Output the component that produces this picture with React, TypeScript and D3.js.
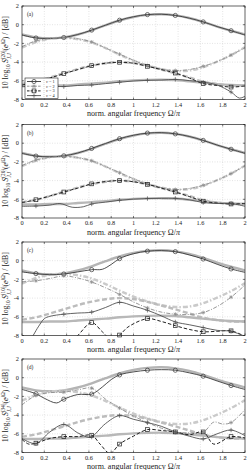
import React from "react";
import * as d3 from "d3";

type Pt = [number, number];

// frequency grid (Omega/pi) of the reference spectra
const freq = [0, 0.125, 0.25, 0.375, 0.5, 0.625, 0.75, 0.875, 1, 1.125, 1.25, 1.375, 1.5, 1.625, 1.75, 1.875, 2];
// marker positions of the estimated spectra
const markerFreq = [0.125, 0.375, 0.625, 0.875, 1.125, 1.375, 1.625, 1.875];

// true PSDs, nu = 1..4 (dB)
const trueS1 = [-1.05, -1.35, -1.45, -1.35, -1.05, -0.6, -0.05, 0.45, 0.82, 1.05, 1.12, 1.0, 0.72, 0.3, -0.2, -0.65, -1.05];
const trueS2 = [-2.45, -1.85, -1.5, -1.4, -1.55, -1.9, -2.5, -3.2, -3.85, -4.35, -4.75, -4.95, -4.9, -4.55, -3.95, -3.25, -2.4];
const trueS3 = [-6.3, -6.05, -5.65, -5.2, -4.75, -4.38, -4.12, -4.0, -4.1, -4.4, -4.8, -5.2, -5.65, -6.1, -6.35, -6.5, -6.5];
const trueS4 = [-6.55, -6.55, -6.5, -6.5, -6.4, -6.3, -6.2, -6.05, -5.95, -5.9, -5.88, -5.92, -6.05, -6.2, -6.35, -6.45, -6.5];

// estimates, panel (a)
const estA1 = [-1.1, -1.42, -1.47, -1.37, -1.05, -0.58, -0.05, 0.48, 0.85, 1.08, 1.12, 0.99, 0.7, 0.3, -0.2, -0.64, -1.1];
const estA2 = [-2.35, -1.72, -1.5, -1.38, -1.5, -1.85, -2.5, -3.15, -3.8, -4.38, -4.75, -4.9, -4.8, -4.45, -3.95, -3.25, -2.45];
const estA3 = [-6.45, -6.1, -5.7, -5.24, -4.8, -4.38, -4.12, -4.02, -4.12, -4.45, -4.8, -5.17, -5.7, -6.3, -6.5, -6.67, -6.55];
const estA4: Pt[] = [[0, -6.62], [0.125, -6.6], [0.25, -6.58], [0.375, -6.62], [0.5, -6.5], [0.625, -6.45], [0.75, -6.3], [0.875, -6.15], [1, -6.02], [1.125, -5.95], [1.25, -5.92], [1.375, -5.85], [1.5, -5.98], [1.625, -6.15], [1.75, -6.45], [1.875, -7.2], [1.95, -7.85], [2, -7.65]];

// estimates, panel (b)
const estB1 = [-1.08, -1.38, -1.45, -1.35, -1.05, -0.56, -0.03, 0.48, 0.85, 1.08, 1.13, 1.0, 0.72, 0.3, -0.2, -0.65, -1.08];
const estB2 = [-2.4, -1.8, -1.52, -1.4, -1.55, -1.88, -2.5, -3.15, -3.8, -4.35, -4.75, -4.95, -4.85, -4.5, -3.95, -3.25, -2.4];
const estB3 = [-6.35, -6.05, -5.65, -5.22, -4.8, -4.35, -4.1, -4.0, -4.12, -4.4, -4.8, -5.22, -5.7, -6.2, -6.4, -6.5, -6.45];
const estB4: Pt[] = [[0, -6.75], [0.125, -6.72], [0.25, -6.62], [0.34, -6.45], [0.45, -6.85], [0.55, -6.8], [0.625, -6.5], [0.75, -6.3], [0.875, -6.1], [1, -5.98], [1.125, -5.92], [1.25, -5.9], [1.375, -5.9], [1.5, -6.05], [1.625, -6.35], [1.75, -6.45], [1.875, -6.45], [2, -6.75]];

// estimates, panel (c)
const estC1: Pt[] = [[0, -1.2], [0.125, -1.38], [0.25, -1.5], [0.375, -1.42], [0.5, -1.2], [0.625, -0.96], [0.72, -0.92], [0.8, -0.4], [0.875, 0.22], [1, 0.75], [1.125, 1.02], [1.25, 1.08], [1.375, 0.97], [1.5, 0.62], [1.625, 0.18], [1.75, -0.38], [1.875, -0.88], [2, -1.25]];
const estC2: Pt[] = [[0, -2.25], [0.125, -2.15], [0.25, -1.9], [0.375, -1.62], [0.5, -1.85], [0.625, -2.28], [0.75, -2.9], [0.875, -3.6], [1, -4.4], [1.125, -5.05], [1.25, -5.5], [1.375, -5.72], [1.5, -5.75], [1.625, -5.55], [1.75, -4.9], [1.875, -3.9], [2, -2.6]];
const estC3: Pt[] = [[0, -10], [0.25, -9.8], [0.375, -9.4], [0.5, -8.0], [0.625, -6.62], [0.72, -7.6], [0.8, -8.4], [0.875, -7.95], [0.95, -7.1], [1.125, -6.2], [1.25, -6.5], [1.375, -6.95], [1.5, -7.35], [1.625, -7.6], [1.75, -7.55], [1.875, -7.5], [2, -8.1]];
const estC4: Pt[] = [[0, -10], [0.1, -8.0], [0.15, -7.0], [0.2, -6.2], [0.25, -5.95], [0.375, -5.72], [0.5, -5.6], [0.625, -5.5], [0.75, -5.0], [0.875, -4.45], [1, -4.85], [1.125, -5.3], [1.25, -5.9], [1.375, -6.55], [1.5, -6.85], [1.625, -7.15], [1.75, -7.45], [1.875, -7.55], [2, -8.1]];

// estimates, panel (d)
const estD1: Pt[] = [[0, -1.25], [0.125, -1.72], [0.2, -2.2], [0.31, -2.7], [0.375, -2.3], [0.5, -1.8], [0.625, -1.75], [0.72, -1.0], [0.8, -0.2], [0.875, 0.3], [1, 0.62], [1.125, 0.8], [1.25, 0.86], [1.375, 0.8], [1.5, 0.52], [1.625, 0.16], [1.75, -0.35], [1.875, -0.84], [2, -1.26]];
const estD2: Pt[] = [[0, -2.9], [0.125, -1.9], [0.25, -1.6], [0.375, -1.55], [0.5, -1.3], [0.625, -1.12], [0.75, -2.3], [0.875, -3.25], [1, -4.1], [1.125, -4.8], [1.25, -5.4], [1.375, -5.85], [1.5, -5.9], [1.625, -5.85], [1.72, -4.75], [1.8, -4.95], [1.875, -4.8], [2, -3.4]];
const estD3: Pt[] = [[0, -6.6], [0.06, -7.1], [0.125, -7.0], [0.25, -6.5], [0.375, -6.3], [0.5, -6.3], [0.625, -6.15], [0.7, -7.1], [0.79, -8.1], [0.875, -7.1], [1, -6.25], [1.125, -5.55], [1.25, -5.65], [1.375, -5.8], [1.5, -6.1], [1.625, -5.8], [1.72, -7.1], [1.875, -6.3], [2, -6.45]];
const estD4: Pt[] = [[0, -6.5], [0.125, -7.05], [0.25, -5.8], [0.375, -5.0], [0.5, -5.9], [0.6, -6.4], [0.625, -6.35], [0.75, -4.9], [0.875, -4.05], [1, -4.45], [1.125, -4.8], [1.25, -5.2], [1.375, -5.8], [1.5, -6.25], [1.625, -6.55], [1.75, -6.0], [1.875, -5.6], [2, -6.2]];

const xTicks = [0, 0.2, 0.4, 0.6, 0.8, 1, 1.2, 1.4, 1.6, 1.8, 2];
const xTickLabels = ["0", "0.2", "0.4", "0.6", "0.8", "1", "1.2", "1.4", "1.6", "1.8", "2"];
const yTicks = [2, 0, -2, -4, -6, -8];
const yTickLabels = ["2", "0", "-2", "-4", "-6", "-8"];
const legendLabels = ["1", "2", "3", "4"];

const onGrid = (v: number[]): Pt[] => freq.map((f, i) => [f, v[i]] as Pt);
const trueCurves = [trueS1, trueS2, trueS3, trueS4].map(onGrid);

type Marker = "circle" | "star" | "square" | "plus";
const styles: { dash?: string; refDash?: string; marker: Marker; est: string; ref: string; w: number }[] = [
  { marker: "circle", est: "#3a3a3a", ref: "#b4b4b4", w: 0.9 },
  { dash: "4,1.5,1,1.5", refDash: "5,2,1.5,2", marker: "star", est: "#8c8c8c", ref: "#cacaca", w: 0.9 },
  { dash: "3.5,2", refDash: "5,2.5", marker: "square", est: "#202020", ref: "#bcbcbc", w: 1.0 },
  { marker: "plus", est: "#505050", ref: "#b8b8b8", w: 0.9 },
];

const panels = [
  { tag: "(a)", order: "20", est: [onGrid(estA1), onGrid(estA2), onGrid(estA3), estA4], legend: true },
  { tag: "(b)", order: "20", est: [onGrid(estB1), onGrid(estB2), onGrid(estB3), estB4], legend: false },
  { tag: "(c)", order: "10", est: [estC1, estC2, estC3, estC4], legend: false },
  { tag: "(d)", order: "34", est: [estD1, estD2, estD3, estD4], legend: false },
];

const W = 250;
const H = 470;
const left = 22;
const right = 245;
const panelTop = [6, 124.5, 242, 359];
const panelH = 93.5;
const font = "'Liberation Serif', 'DejaVu Serif', serif";

function MarkerShape({ kind, cx, cy, color }: { kind: Marker; cx: number; cy: number; color: string }) {
  const s = 1.9;
  if (kind === "circle") return <circle cx={cx} cy={cy} r={2.1} fill="none" stroke={color} strokeWidth={0.7} />;
  if (kind === "square")
    return <rect x={cx - s} y={cy - s} width={2 * s} height={2 * s} fill="none" stroke={color} strokeWidth={0.7} />;
  if (kind === "plus")
    return <path d={`M${cx - 2.2},${cy}H${cx + 2.2}M${cx},${cy - 2.2}V${cy + 2.2}`} stroke={color} strokeWidth={0.7} />;
  const d = 1.4;
  return (
    <path
      d={`M${cx - 2},${cy}H${cx + 2}M${cx},${cy - 2}V${cy + 2}M${cx - d},${cy - d}L${cx + d},${cy + d}M${cx - d},${cy + d}L${cx + d},${cy - d}`}
      stroke={color}
      strokeWidth={0.7}
    />
  );
}

function Panel({ idx }: { idx: number }) {
  const p = panels[idx];
  const top = panelTop[idx];
  const bottom = top + panelH;
  const x = d3.scaleLinear().domain([0, 2]).range([left, right]);
  const y = d3.scaleLinear().domain([-8, 2]).range([bottom, top]);
  const line = d3
    .line<Pt>()
    .x((d) => x(d[0]))
    .y((d) => y(d[1]))
    .curve(d3.curveCatmullRom.alpha(0.5));
  const clipId = `clip-${idx}`;
  const cy = top + panelH / 2;

  return (
    <g>
      <clipPath id={clipId}>
        <rect x={left} y={top} width={right - left} height={panelH} />
      </clipPath>
      <rect x={left} y={top} width={right - left} height={panelH} fill="#fff" />
      {/* dotted grid */}
      {xTicks.slice(1, -1).map((t) => (
        <line key={`gx${t}`} x1={x(t)} x2={x(t)} y1={top} y2={bottom} stroke="#c8c8c8" strokeWidth={0.5} strokeDasharray="1,1.5" />
      ))}
      {yTicks.slice(1, -1).map((t) => (
        <line key={`gy${t}`} x1={left} x2={right} y1={y(t)} y2={y(t)} stroke="#c8c8c8" strokeWidth={0.5} strokeDasharray="1,1.5" />
      ))}
      <g clipPath={`url(#${clipId})`}>
        {trueCurves.map((c, i) => (
          <path key={`t${i}`} d={line(c) ?? ""} fill="none" stroke={styles[i].ref} strokeWidth={2.4} strokeDasharray={styles[i].refDash} />
        ))}
        {p.est.map((c, i) => (
          <path key={`e${i}`} d={line(c) ?? ""} fill="none" stroke={styles[i].est} strokeWidth={styles[i].w} strokeDasharray={styles[i].dash} />
        ))}
      </g>
      {p.est.map((c, i) =>
        c
          .filter((d) => markerFreq.includes(d[0]) && d[1] >= -8.05 && d[1] <= 2)
          .map((d) => <MarkerShape key={`m${i}-${d[0]}`} kind={styles[i].marker} cx={x(d[0])} cy={y(d[1])} color={styles[i].est} />)
      )}
      {/* axes box and inward ticks */}
      <rect x={left} y={top} width={right - left} height={panelH} fill="none" stroke="#222" strokeWidth={0.7} />
      {xTicks.map((t) => (
        <g key={`tx${t}`} stroke="#222" strokeWidth={0.6}>
          <line x1={x(t)} x2={x(t)} y1={bottom} y2={bottom - 2} />
          <line x1={x(t)} x2={x(t)} y1={top} y2={top + 2} />
        </g>
      ))}
      {yTicks.map((t) => (
        <g key={`ty${t}`} stroke="#222" strokeWidth={0.6}>
          <line x1={left} x2={left + 2} y1={y(t)} y2={y(t)} />
          <line x1={right} x2={right - 2} y1={y(t)} y2={y(t)} />
        </g>
      ))}
      {xTicks.map((t, i) => (
        <text key={`lx${t}`} x={x(t)} y={bottom + 7} fontSize={6.3} textAnchor="middle" fill="#222" fontFamily={font}>
          {xTickLabels[i]}
        </text>
      ))}
      {yTicks.map((t, i) => (
        <text key={`ly${t}`} x={left - 3} y={y(t) + 2.2} fontSize={6.3} textAnchor="end" fill="#222" fontFamily={font}>
          {yTickLabels[i]}
        </text>
      ))}
      <text x={left + 5} y={top + 10} fontSize={5.5} fill="#222" fontFamily={font}>
        {p.tag}
      </text>
      <text x={(left + right) / 2} y={bottom + 16.5} fontSize={8} textAnchor="middle" fill="#222" fontFamily={font}>
        {"norm. angular frequency Ω/"}
        <tspan fontStyle="italic">π</tspan>
      </text>
      <text transform={`translate(8,${cy}) rotate(-90)`} fontSize={7.8} textAnchor="middle" fill="#222" fontFamily={font}>
        {"10 log"}
        <tspan dy={1.9} fontSize={5.2}>10</tspan>
        <tspan dy={-1.9} dx={1.3} fontStyle="italic">S</tspan>
        <tspan dy={-3.4} fontSize={5.2}>{`(${p.order})`}</tspan>
        <tspan dx={-8.6} dy={6.4} fontSize={5.2} fontStyle="italic">J,J</tspan>
        <tspan dx={2.6} dy={-3}>(</tspan>
        <tspan fontStyle="italic">e</tspan>
        <tspan dy={-3.2} fontSize={5.2} fontStyle="italic">j</tspan>
        <tspan fontSize={5.2}>Ω</tspan>
        <tspan dy={3.2}>{") / [dB]"}</tspan>
      </text>
      {p.legend && <Legend top={top} />}
    </g>
  );
}

function Legend({ top }: { top: number }) {
  const lx = 25;
  const ly = top + 72;
  const rowH = 4.7;
  return (
    <g>
      <rect x={lx} y={ly} width={33} height={20.5} fill="#fff" stroke="#222" strokeWidth={0.6} />
      <line x1={lx + 19} x2={lx + 19} y1={ly} y2={ly + 20.5} stroke="#aaa" strokeWidth={0.5} strokeDasharray="1,1" />
      {styles.map((s, i) => {
        const ry = ly + 3.5 + i * rowH;
        return (
          <g key={`lg${i}`}>
            <line x1={lx + 2} x2={lx + 16} y1={ry} y2={ry} stroke={s.est} strokeWidth={s.w} strokeDasharray={s.dash ? "2.5,1.2" : undefined} />
            <MarkerShape kind={s.marker} cx={lx + 9} cy={ry} color={s.est} />
            <text x={lx + 21} y={ry + 1.5} fontSize={4.3} fill="#222" fontFamily={font}>
              <tspan fontStyle="italic">ν</tspan>
              {` = ${legendLabels[i]}`}
            </text>
          </g>
        );
      })}
    </g>
  );
}

export default function App() {
  return (
    <svg width={W} height={H} viewBox={`0 0 ${W} ${H}`} style={{ position: "absolute", left: 0, top: 0, background: "#fff" }}>
      {panels.map((_, i) => (
        <Panel key={i} idx={i} />
      ))}
    </svg>
  );
}
